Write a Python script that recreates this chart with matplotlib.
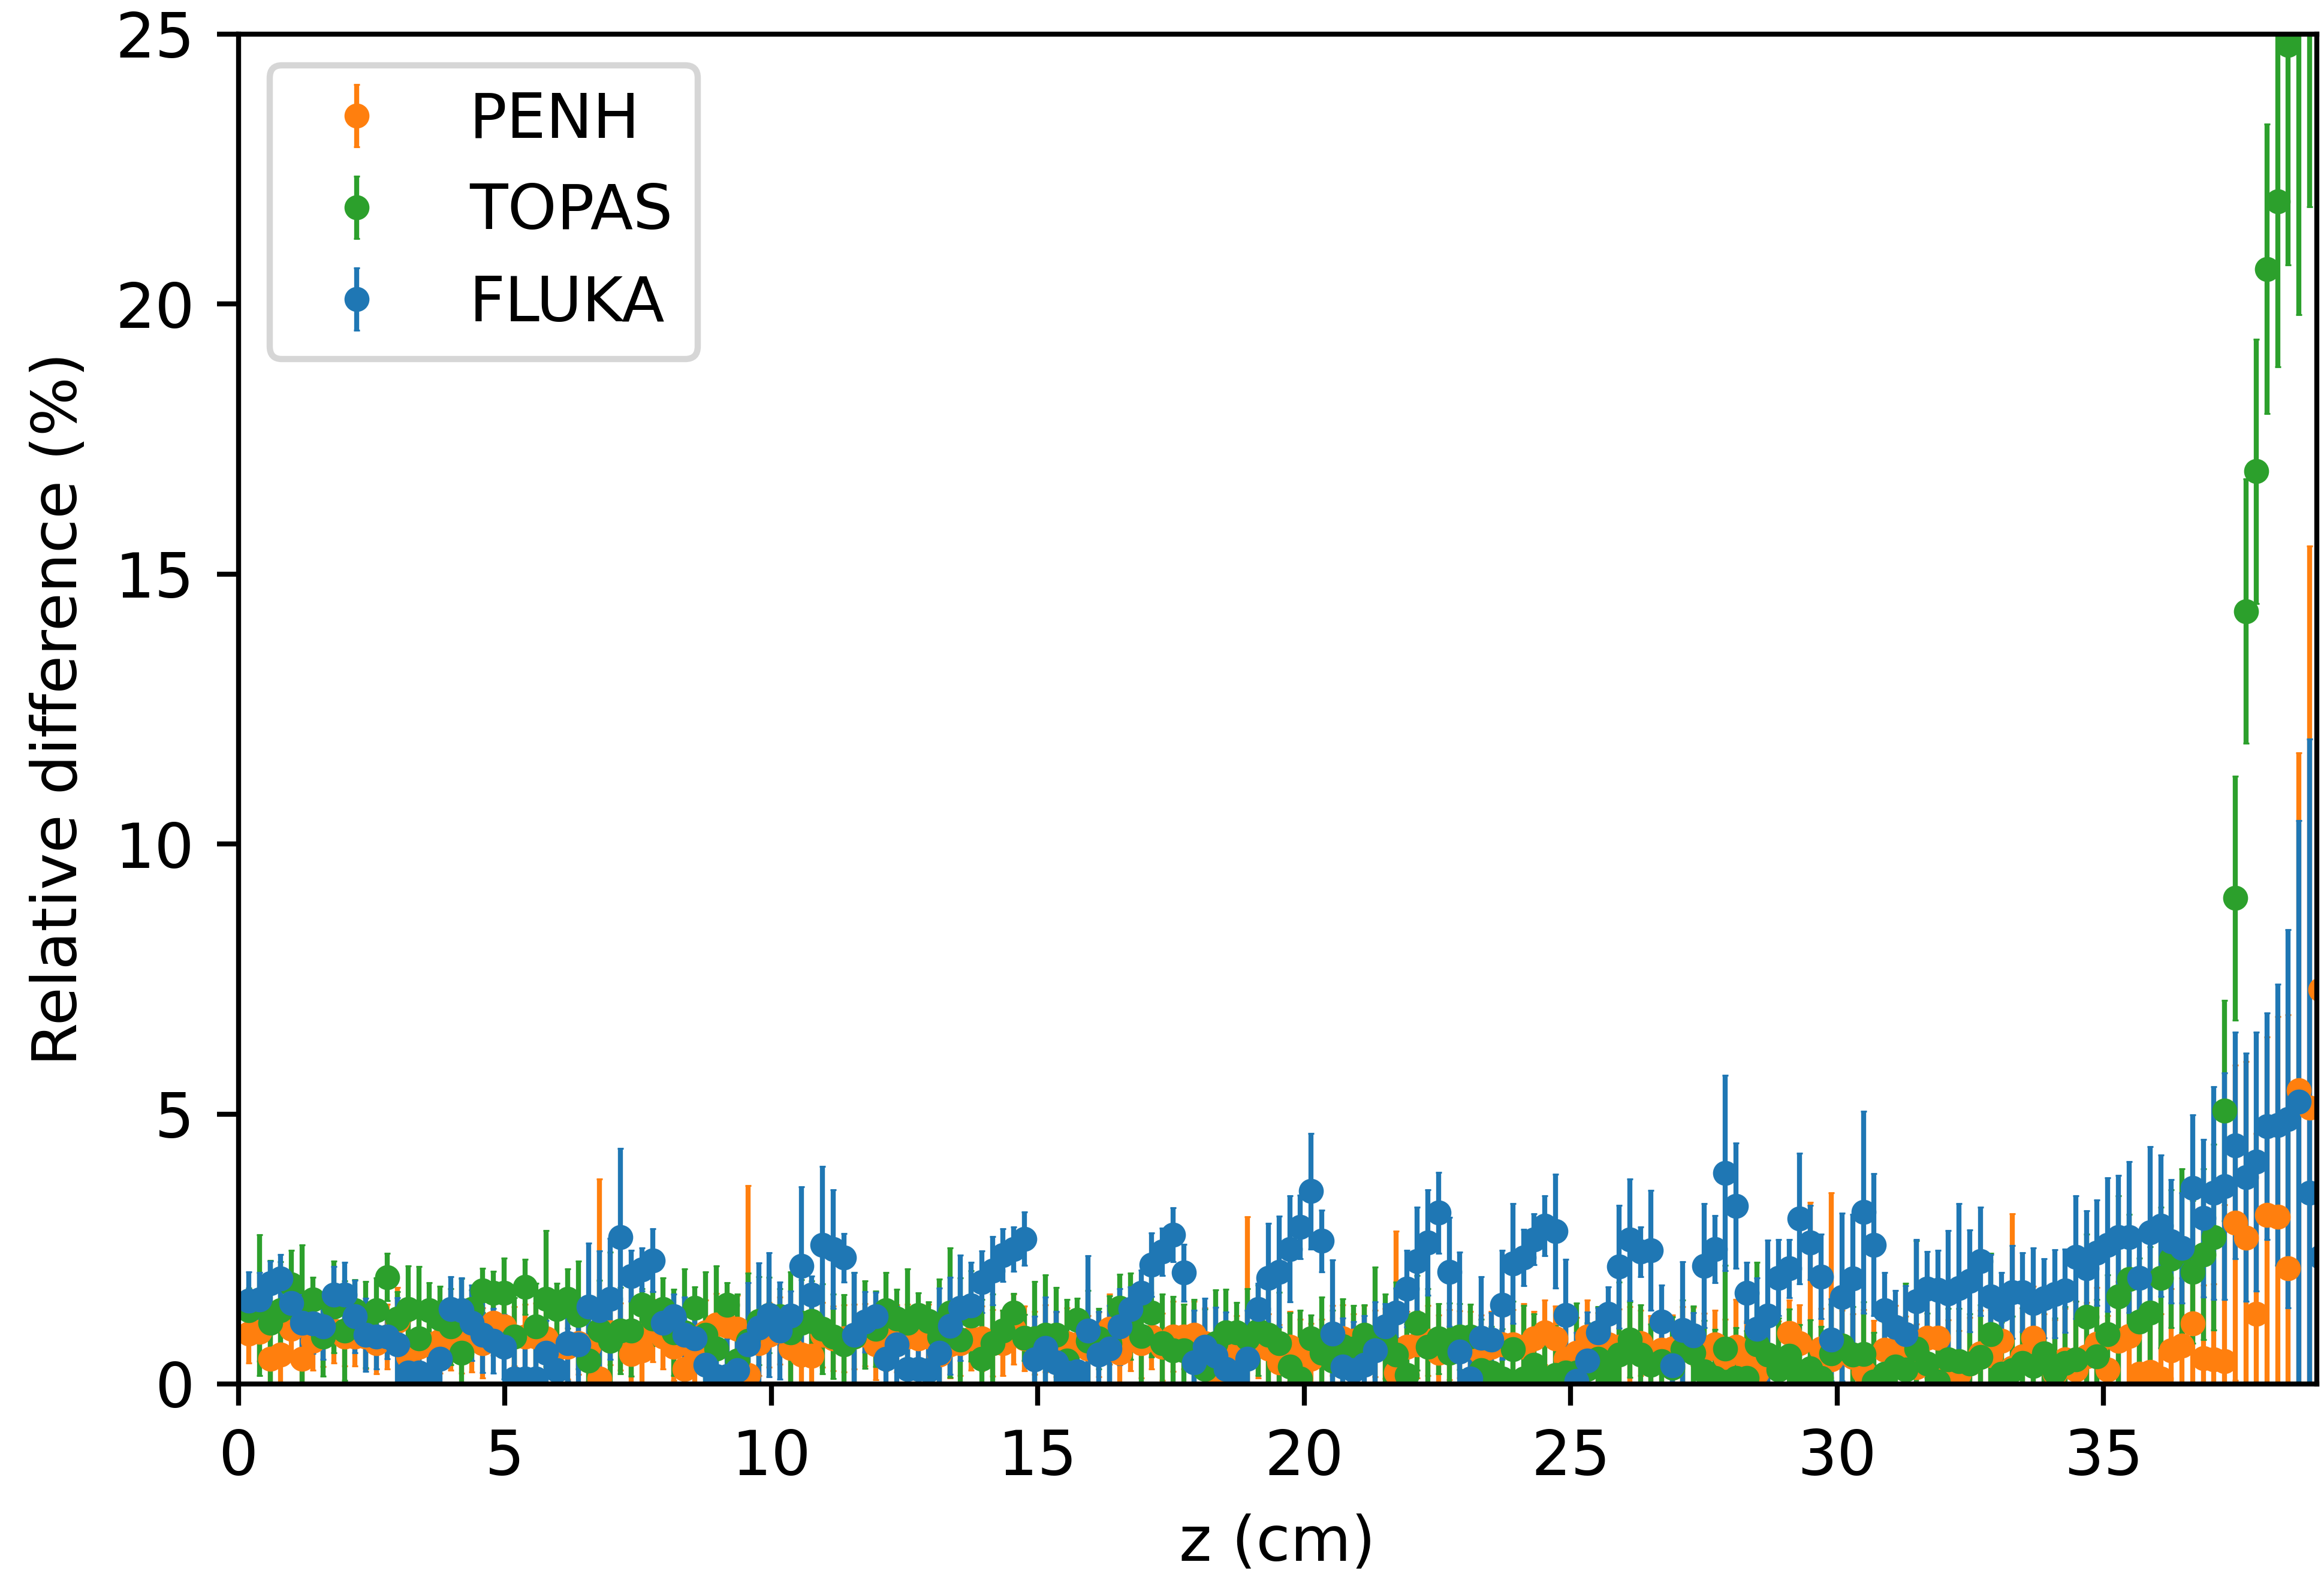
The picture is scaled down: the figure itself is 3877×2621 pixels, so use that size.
import numpy as np
import matplotlib
matplotlib.use("Agg")
import matplotlib.pyplot as plt

# depth grid (cm): evenly spaced scoring bins
Z_STEP = 0.1993
N_BINS = 196
z = Z_STEP * np.arange(1, N_BINS + 1)

labels = ["PENH", "TOPAS", "FLUKA"]
colors = ["#ff7f0e", "#2ca02c", "#1f77b4"]

penh_val = [
    0.93, 0.97, 0.47, 0.54, 1.02, 0.47, 0.80, 0.90, 0.99, 0.88,
    0.88, 0.88, 0.76, 0.88, 1.17, 0.51, 0.69, 0.73, 0.80, 0.80,
    0.80, 0.84, 0.76, 1.13, 1.06, 0.88, 0.88, 0.88, 0.84, 0.65,
    0.69, 0.76, 0.69, 0.10, 0.95, 0.88, 0.55, 0.62, 0.99, 0.88,
    0.69, 0.28, 0.62, 0.95, 1.10, 1.08, 1.02, 0.17, 0.76, 0.91,
    0.99, 0.67, 0.54, 0.52, 0.91, 0.84, 0.84, 0.88, 0.91, 0.73,
    0.84, 0.84, 0.88, 0.84, 0.88, 0.54, 0.73, 0.76, 0.84, 0.84,
    0.76, 0.76, 1.02, 0.84, 0.76, 0.84, 0.73, 0.76, 0.73, 0.65,
    0.73, 1.02, 0.58, 0.84, 0.76, 0.88, 0.69, 0.88, 0.88, 0.91,
    0.76, 0.10, 0.54, 0.62, 0.65, 0.73, 0.65, 0.40, 0.69, 0.58,
    0.47, 0.60, 0.80, 0.84, 0.80, 0.80, 0.75, 0.75, 0.21, 0.69,
    0.73, 0.80, 0.58, 0.73, 0.73, 0.69, 0.58, 0.69, 0.73, 0.73,
    0.69, 0.84, 0.95, 0.84, 0.47, 0.58, 0.88, 0.62, 0.73, 0.69,
    0.73, 0.76, 0.57, 0.63, 0.65, 0.73, 0.88, 0.61, 0.73, 0.50,
    0.69, 0.46, 0.21, 0.50, 0.42, 0.94, 0.75, 0.19, 0.65, 0.46,
    0.61, 0.50, 0.23, 0.11, 0.63, 0.65, 0.50, 0.31, 0.86, 0.86,
    0.34, 0.19, 0.38, 0.57, 0.53, 0.80, 0.30, 0.51, 0.86, 0.40,
    0.19, 0.45, 0.27, 0.51, 0.74, 0.27, 0.80, 0.89, 0.19, 0.22,
    0.10, 0.62, 0.71, 1.12, 0.48, 0.45, 0.42, 2.99, 2.71, 1.30,
    3.13, 3.10, 2.14, 5.44, 5.12, 7.30,
]
penh_err = [
    0.54, 0.55, 0.60, 0.62, 0.55, 0.60, 0.55, 0.58, 0.60, 0.55,
    0.55, 0.60, 0.57, 0.60, 0.62, 0.65, 0.60, 0.58, 0.60, 0.55,
    0.60, 0.62, 0.65, 0.60, 0.58, 0.55, 0.60, 0.62, 0.65, 0.60,
    0.60, 0.58, 0.65, 3.70, 0.60, 0.62, 0.65, 0.60, 0.58, 0.60,
    0.62, 0.65, 0.60, 0.60, 0.58, 0.60, 0.62, 3.50, 0.60, 0.60,
    0.62, 0.65, 0.60, 0.58, 0.60, 0.60, 0.62, 0.60, 0.58, 0.65,
    0.60, 0.62, 0.60, 0.58, 0.60, 0.65, 0.62, 0.60, 0.58, 0.60,
    0.62, 0.60, 0.65, 0.60, 0.58, 0.62, 0.60, 0.65, 0.60, 0.62,
    0.60, 0.65, 0.62, 0.60, 0.65, 0.60, 0.62, 0.65, 0.60, 0.62,
    0.65, 0.70, 0.62, 0.65, 2.45, 0.62, 0.65, 0.70, 0.65, 0.62,
    0.65, 0.60, 0.65, 0.62, 0.50, 0.65, 0.62, 0.65, 2.62, 0.65,
    0.62, 0.65, 0.70, 0.65, 0.62, 0.65, 0.70, 0.65, 0.62, 0.65,
    0.80, 0.50, 0.60, 0.60, 0.70, 0.65, 0.67, 0.70, 0.65, 0.70,
    0.70, 0.60, 0.70, 0.65, 0.63, 0.70, 0.54, 0.70, 0.63, 0.70,
    0.88, 0.70, 0.75, 0.70, 0.75, 0.61, 0.71, 3.17, 0.75, 3.08,
    0.75, 0.80, 1.15, 1.07, 0.75, 0.80, 0.75, 0.80, 0.75, 0.80,
    0.85, 0.80, 0.85, 0.80, 0.85, 0.90, 2.85, 0.90, 0.95, 0.90,
    1.00, 0.95, 1.26, 1.00, 1.05, 1.00, 1.10, 1.05, 1.10, 1.15,
    1.20, 1.15, 1.25, 1.30, 1.35, 1.40, 2.90, 2.92, 3.26, 3.34,
    3.30, 3.70, 4.70, 6.25, 10.40, 8.20,
]

topas_val = [
    1.36, 1.46, 1.13, 1.36, 1.84, 1.21, 1.56, 0.88, 1.43, 0.99,
    1.36, 1.10, 1.36, 1.98, 1.21, 1.39, 0.84, 1.36, 1.21, 1.06,
    0.58, 1.39, 1.73, 1.69, 1.69, 0.88, 1.80, 1.06, 1.58, 1.39,
    1.58, 1.28, 0.43, 1.00, 0.80, 0.99, 0.99, 1.46, 1.21, 1.39,
    0.95, 0.95, 1.41, 0.91, 0.65, 1.47, 0.43, 0.80, 1.17, 1.28,
    1.25, 0.95, 1.13, 1.17, 1.02, 0.88, 0.73, 0.88, 1.10, 1.02,
    1.36, 1.21, 1.13, 1.28, 1.17, 0.88, 1.32, 0.82, 1.26, 0.47,
    0.75, 0.99, 1.32, 0.86, 0.84, 0.91, 0.91, 0.43, 1.19, 0.80,
    0.84, 0.76, 1.41, 1.25, 0.89, 1.32, 0.76, 0.62, 0.62, 0.47,
    0.28, 0.76, 0.95, 0.95, 0.84, 0.99, 0.91, 0.75, 0.32, 0.10,
    0.84, 0.58, 0.43, 0.70, 0.65, 0.91, 0.84, 0.80, 0.54, 0.17,
    1.13, 0.69, 0.84, 0.58, 0.88, 0.88, 0.25, 0.21, 0.10, 0.64,
    0.10, 0.36, 0.10, 0.17, 0.21, 0.21, 0.28, 0.47, 0.21, 0.54,
    0.82, 0.54, 0.35, 0.42, 0.30, 0.64, 0.58, 0.23, 0.11, 0.65,
    0.11, 0.11, 0.73, 0.54, 0.27, 0.52, 0.17, 0.29, 0.11, 0.57,
    0.71, 0.54, 0.55, 0.04, 0.19, 0.32, 0.27, 0.65, 0.38, 0.04,
    0.46, 0.42, 0.38, 0.50, 0.92, 0.19, 0.25, 0.39, 0.33, 0.57,
    0.22, 0.39, 0.45, 1.24, 0.51, 0.92, 1.62, 1.94, 1.15, 1.32,
    1.97, 2.32, 2.46, 2.08, 2.40, 2.72, 5.06, 9.00, 14.31, 16.90,
    20.65, 21.90, 24.80, 26.00, 27.50, 29.00,
]
topas_err = [
    0.42, 1.30, 1.16, 0.90, 0.64, 1.37, 0.42, 0.74, 0.85, 0.92,
    0.57, 0.80, 0.61, 0.44, 0.50, 0.80, 1.33, 0.52, 0.60, 0.70,
    1.37, 0.35, 0.41, 0.40, 0.64, 0.72, 0.51, 0.80, 1.26, 0.48,
    0.55, 1.00, 1.10, 0.92, 1.64, 0.80, 0.85, 0.31, 0.50, 0.57,
    0.80, 1.18, 0.39, 1.16, 1.54, 0.41, 1.23, 1.25, 0.82, 0.70,
    0.52, 1.12, 0.80, 0.74, 0.83, 0.78, 0.92, 1.18, 0.81, 0.70,
    0.70, 0.54, 1.00, 0.41, 0.35, 1.06, 1.20, 1.15, 0.84, 1.10,
    0.92, 0.37, 0.36, 0.43, 1.06, 1.11, 0.88, 1.13, 0.40, 0.93,
    0.56, 0.87, 0.62, 0.80, 0.95, 0.82, 0.91, 1.00, 0.86, 1.10,
    1.11, 0.98, 0.80, 0.56, 0.92, 0.84, 0.88, 0.95, 1.00, 1.27,
    0.44, 1.03, 0.93, 0.88, 0.80, 0.55, 1.32, 0.86, 1.35, 0.94,
    0.88, 1.07, 0.65, 0.92, 0.61, 0.60, 0.95, 0.86, 0.92, 0.89,
    1.35, 0.94, 0.87, 0.91, 0.93, 1.29, 0.85, 0.96, 0.90, 1.35,
    0.70, 0.92, 0.76, 0.88, 0.94, 0.91, 0.86, 0.95, 0.90, 1.55,
    0.93, 0.88, 1.52, 0.92, 0.95, 0.87, 0.93, 0.90, 0.96, 0.91,
    0.94, 0.89, 0.97, 0.92, 0.95, 0.90, 1.60, 2.00, 0.93, 0.96,
    0.94, 0.98, 0.92, 0.97, 1.50, 0.95, 1.00, 1.02, 0.98, 1.05,
    1.00, 1.04, 1.08, 1.53, 1.06, 1.10, 1.87, 1.20, 1.18, 1.22,
    1.30, 1.28, 1.52, 1.32, 1.58, 1.72, 2.04, 2.26, 2.45, 2.45,
    2.68, 3.07, 4.08, 6.20, 5.70, 6.00,
]

fluka_val = [
    1.54, 1.56, 1.87, 1.95, 1.50, 1.13, 1.12, 1.06, 1.65, 1.65,
    1.25, 0.91, 0.88, 0.88, 0.73, 0.21, 0.21, 0.10, 0.47, 1.39,
    1.36, 1.13, 0.91, 0.80, 0.69, 0.10, 0.10, 0.10, 0.58, 0.25,
    0.76, 0.73, 1.43, 1.36, 1.58, 2.72, 2.00, 2.12, 2.29, 1.13,
    1.25, 0.91, 0.84, 0.36, 0.14, 0.14, 0.25, 0.73, 1.04, 1.28,
    0.99, 1.26, 2.19, 1.65, 2.58, 2.50, 2.34, 0.91, 1.15, 1.25,
    0.47, 0.73, 0.28, 0.28, 0.25, 0.58, 1.08, 1.41, 1.45, 1.89,
    2.10, 2.39, 2.50, 2.69, 0.45, 0.67, 0.40, 0.21, 0.23, 0.99,
    0.54, 0.65, 1.06, 1.39, 1.69, 2.21, 2.45, 2.76, 2.06, 0.40,
    0.69, 0.52, 0.28, 0.21, 0.47, 1.39, 1.97, 2.08, 2.50, 2.91,
    3.57, 2.65, 0.93, 0.32, 0.25, 0.36, 0.62, 1.06, 1.32, 1.76,
    2.27, 2.62, 3.17, 2.07, 0.60, 0.10, 0.86, 0.82, 1.47, 2.23,
    2.34, 2.68, 2.93, 2.83, 1.28, 0.06, 0.43, 0.95, 1.30, 2.17,
    2.67, 2.45, 2.48, 1.15, 0.34, 1.00, 0.90, 2.19, 2.50, 3.91,
    3.30, 1.69, 1.02, 1.26, 1.97, 2.14, 3.06, 2.62, 1.99, 0.82,
    1.61, 1.95, 3.18, 2.58, 1.37, 1.05, 0.92, 1.53, 1.76, 1.74,
    1.68, 1.78, 1.91, 2.27, 1.62, 1.38, 1.70, 1.70, 1.50, 1.59,
    1.67, 1.73, 2.35, 2.14, 2.43, 2.58, 2.72, 2.72, 1.97, 2.81,
    2.93, 2.64, 2.52, 3.63, 3.07, 3.54, 3.66, 4.42, 3.83, 4.12,
    4.77, 4.80, 4.91, 5.23, 3.54, 2.35,
]
fluka_err = [
    0.54, 0.50, 0.41, 0.45, 0.55, 0.52, 0.55, 0.60, 0.52, 0.60,
    0.67, 0.68, 0.60, 0.41, 0.87, 0.60, 0.60, 0.50, 0.50, 0.60,
    0.60, 0.70, 0.70, 0.60, 0.60, 0.60, 0.60, 0.60, 0.60, 0.60,
    0.70, 0.80, 1.18, 1.10, 1.12, 1.64, 0.47, 0.40, 0.58, 0.42,
    0.41, 0.70, 0.59, 0.80, 0.80, 0.70, 0.70, 1.15, 1.20, 1.15,
    0.90, 0.46, 1.46, 0.35, 1.45, 1.10, 0.45, 1.15, 0.56, 0.45,
    0.80, 0.70, 0.60, 0.60, 0.60, 1.20, 0.90, 0.98, 0.80, 0.57,
    0.63, 0.49, 0.41, 0.49, 0.80, 0.94, 0.94, 0.70, 0.70, 1.38,
    0.80, 0.80, 0.70, 0.41, 0.42, 0.59, 0.44, 0.50, 0.53, 0.96,
    0.90, 0.90, 1.05, 0.80, 0.90, 0.48, 1.01, 1.03, 0.98, 0.59,
    1.07, 0.57, 1.37, 0.90, 0.90, 0.90, 0.90, 0.43, 0.46, 0.71,
    1.00, 0.98, 0.75, 1.01, 1.84, 0.90, 1.13, 0.50, 1.01, 1.11,
    0.52, 0.47, 0.55, 1.05, 1.03, 0.90, 0.90, 0.46, 0.50, 1.14,
    1.13, 0.46, 1.11, 0.68, 0.52, 1.26, 0.42, 1.15, 0.62, 1.81,
    1.16, 0.56, 0.95, 1.40, 0.71, 0.54, 1.21, 0.69, 0.78, 0.76,
    1.55, 1.19, 1.87, 1.32, 0.69, 0.68, 0.90, 1.14, 0.69, 0.73,
    1.16, 1.56, 0.94, 1.00, 0.78, 0.68, 0.86, 0.73, 1.02, 0.73,
    0.82, 0.77, 1.14, 1.07, 0.98, 1.24, 1.14, 1.40, 0.76, 1.59,
    1.31, 1.14, 1.02, 1.35, 1.46, 1.97, 2.10, 2.10, 2.30, 2.40,
    2.10, 2.60, 3.50, 5.20, 8.40, 9.00,
]

values = [penh_val, topas_val, fluka_val]
errors = [penh_err, topas_err, fluka_err]

DPI = 750
fig = plt.figure(figsize=(3877 / DPI, 2621 / DPI), dpi=DPI)
ax = fig.add_axes([0.10253, 0.11904, 0.89437, 0.85937])

for lab, col, v, e in zip(labels, colors, values, errors):
    ax.errorbar(z, v, yerr=e, fmt='o', color=col, ecolor=col,
                markersize=3, elinewidth=0.8, capsize=0.5, capthick=0.3,
                label=lab)

ax.set_xlim(0, 39)
ax.set_ylim(0, 25)
ax.set_xticks([0, 5, 10, 15, 20, 25, 30, 35])
ax.set_yticks([0, 5, 10, 15, 20, 25])
ax.set_xlabel('z (cm)')
ax.set_ylabel('Relative difference (%)')
ax.legend(loc='upper left')

fig.savefig('out.png', dpi=DPI)
